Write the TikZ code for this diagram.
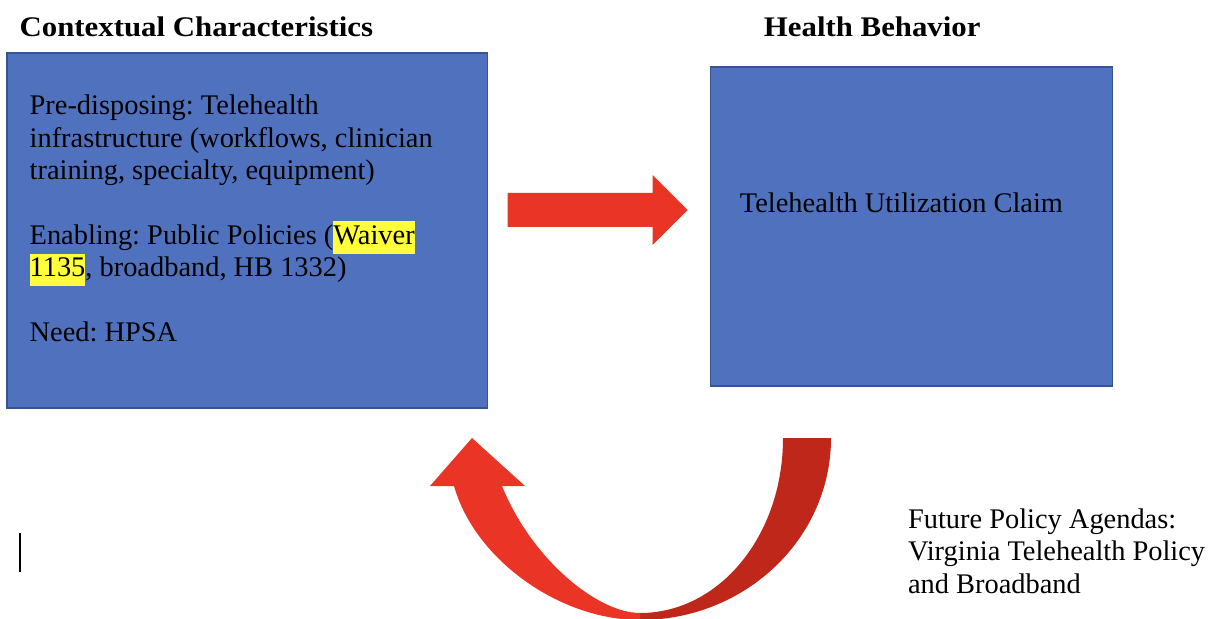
\documentclass[tikz,border=0pt]{standalone}
\usepackage{fontspec}
\setmainfont{Liberation Serif}
\newfontface\headfont{Liberation Serif Bold}[FakeStretch=1.085]
\usetikzlibrary{positioning}
\definecolor{boxblue}{RGB}{80,114,190}
\definecolor{boxedge}{RGB}{52,84,148}
\definecolor{arrowred}{RGB}{233,52,38}
\definecolor{arrowdark}{RGB}{191,39,27}
\definecolor{hlyellow}{RGB}{255,255,59}
\frenchspacing
% yellow marker behind a word
\newcommand{\hilite}[1]{{\setlength{\fboxsep}{0pt}\colorbox{hlyellow}{\strut#1}}}
\tikzset {
  % filled blue block
  block/.style = {
    draw = boxedge,
    fill = boxblue,
    line width = 0.8pt,
    rectangle,
    inner sep = 0
  },
  % plain text inside and around the blocks
  body/.style = {
    inner sep = 0,
    align = left,
    font = \fontsize{20.2}{23}\selectfont
  },
  % heading above a block
  heading/.style = {
    body,
    font = \fontsize{20.2}{23}\headfont
  },
  % wide red arrows
  redarrow/.style = {
    fill = arrowred,
    draw = none
  },
  backarrow/.style = {
    fill = arrowdark,
    draw = none
  }
}

\begin{document}
\begin{tikzpicture}[x=0.025cm, y=-0.025cm]
  \useasboundingbox (0,0) rectangle (1216,618);

  \node[block, minimum width=12cm, minimum height=8.875cm] (ctx) at (247,230.5) {};
  \node[block, minimum width=10.05cm, minimum height=7.975cm] (behav)
    [right=5.55cm of ctx, yshift=0.1cm] {};

  \node[heading] (ctxtitle) [above right=0.14cm and 0.325cm of ctx.north west]
    {\strut Contextual Characteristics};
  \node[heading] (behavtitle) [above right=0.49cm and 1.35cm of behav.north west]
    {\strut Health Behavior};

  \node[body] (ctxtext) [below right=0.985cm and 0.575cm of ctx.north west]
    {\strut Pre-disposing: Telehealth\\
     infrastructure (workflows, clinician\\
     training, specialty, equipment)\\[\baselineskip]
     Enabling: Public Policies (\hilite{Waiver}\\
     \hilite{1135}, broadband, HB 1332)\\[\baselineskip]
     Need: HPSA};
  \node[body] (behavtext) [below right=3.07cm and 0.75cm of behav.north west]
    {\strut Telehealth Utilization Claim};
  \node[body] (agenda) [below right=2.97cm and 4.95cm of behav.south west]
    {\strut Future Policy Agendas:\\
     Virginia Telehealth Policy\\
     and Broadband};

  % arrow from the context block to the behaviour block
  \coordinate (fwdtail) at ([xshift=0.5cm, yshift=0.5125cm]ctx.east);
  \fill[redarrow] (fwdtail) ++(0,-17) -- ++(145,0) -- ++(0,-18) -- ++(35,35)
    -- ++(-35,35) -- ++(0,-18) -- ++(-145,0) -- cycle;

  % back part of the loop
  \fill[backarrow] (783,438) -- (831,438)
    .. controls (831,539) and (745,620) .. (640,620)
    -- (640,613)
    .. controls (719,613) and (783,536) .. (783,438) -- cycle;
  % front part of the loop with its head
  \fill[redarrow] (640,620)
    .. controls (560,620) and (475,560) .. (454,486)
    -- (430,486) -- (472,438) -- (525,486) -- (502,486)
    .. controls (532,560) and (598,613) .. (640,613) -- cycle;

  % text cursor
  \draw[line width=1.4pt] (20,533) -- (20,572);
\end{tikzpicture}
\end{document}
